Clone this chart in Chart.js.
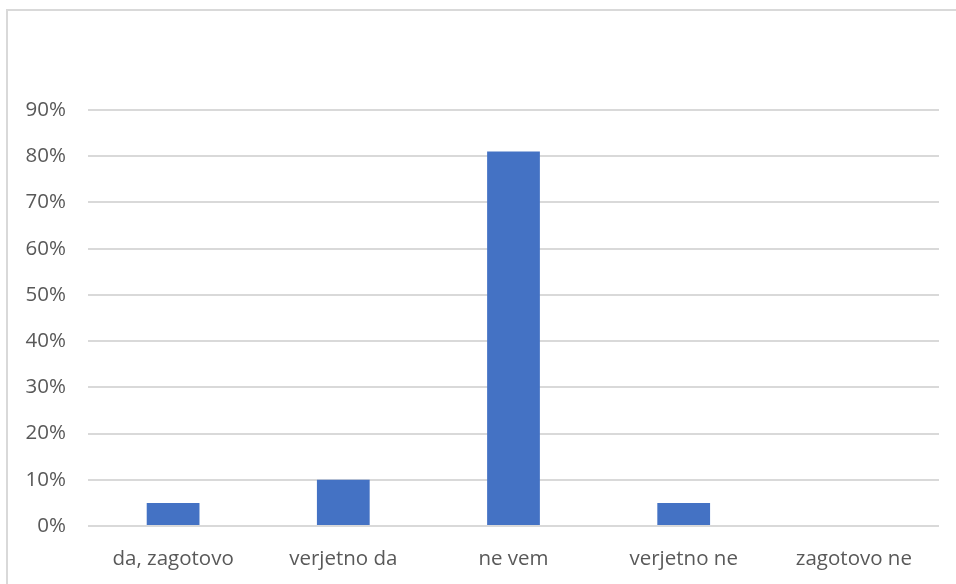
<!DOCTYPE html>
<html>
<head>
<meta charset="utf-8">
<script src="https://cdn.jsdelivr.net/npm/chart.js@4"></script>
<style>
    html, body { margin: 0; padding: 0; background: #fff; overflow: hidden; }
    #wrap { position: relative; width: 956px; height: 584px; }
    #frame {
        position: absolute; left: 6px; top: 9px;
        width: 1000px; height: 700px;
        border: 2px solid #d9d9d9;
    }
    canvas { position: absolute; left: 0; top: 0; }
</style>
</head>
<body>
<div id="wrap">
    <div id="frame"></div>
    <canvas id="barChart" width="956" height="584"></canvas>
</div>
<script>
const categories = ['da, zagotovo', 'verjetno da', 'ne vem', 'verjetno ne', 'zagotovo ne'];
const shares = [0.05, 0.10, 0.81, 0.05, 0];
const yTicks = [0, 0.1, 0.2, 0.3, 0.4, 0.5, 0.6, 0.7, 0.8, 0.9];

const labelFont = { family: '"Open Sans", "Noto Sans", sans-serif', size: 20.5 };

new Chart(document.getElementById('barChart').getContext('2d'), {
    type: 'bar',
    data: {
        labels: categories,
        datasets: [{
            data: shares,
            backgroundColor: '#4472c4',
            borderWidth: 0,
            barPercentage: 0.31,
            categoryPercentage: 1
        }]
    },
    options: {
        responsive: false,
        animation: false,
        layout: { padding: { top: 110, right: 17, bottom: 0, left: 0 } },
        plugins: {
            legend: { display: false },
            tooltip: { enabled: false }
        },
        scales: {
            x: {
                grid: { display: false },
                border: { display: false },
                ticks: { font: labelFont, color: '#595959', padding: 13, maxRotation: 0 },
                afterFit: function(scale) { scale.height = 58; }
            },
            y: {
                min: 0,
                max: 0.9,
                afterBuildTicks: function(scale) {
                    scale.ticks = yTicks.map(v => ({ value: v }));
                },
                grid: { color: '#d9d9d9', lineWidth: 2, drawTicks: false },
                border: { display: false },
                ticks: {
                    font: labelFont,
                    color: '#595959',
                    padding: 22,
                    callback: function(value) {
                        return Math.round(value * 100) + '%';
                    }
                },
                afterFit: function(scale) { scale.width = 88; }
            }
        }
    }
});
</script>
</body>
</html>
